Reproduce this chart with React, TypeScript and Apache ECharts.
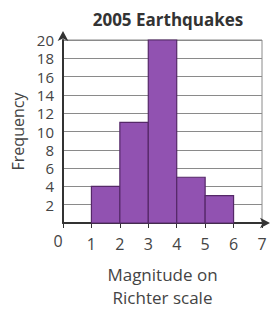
import React, { useEffect, useRef } from "react";
import * as echarts from "echarts";

const binStarts = [1, 2, 3, 4, 5];
const binEnds = [2, 3, 4, 5, 6];
const frequencies = [4, 11, 20, 5, 3];
const xTicks = [0, 1, 2, 3, 4, 5, 6, 7];
const yTicks = [0, 2, 4, 6, 8, 10, 12, 14, 16, 18, 20];

const FONT = "'Open Sans', 'Noto Sans', sans-serif";

export default function App() {
  const ref = useRef<HTMLDivElement>(null);
  useEffect(() => {
    if (!ref.current) return;
    const chart = echarts.init(ref.current, null, { renderer: "svg" });
    const data = binStarts.map((s, i) => [s, binEnds[i], frequencies[i]]);
    chart.setOption({
      animation: false,
      title: {
        text: "2005 Earthquakes",
        left: 163,
        textAlign: "center",
        top: 6,
        textStyle: { fontFamily: FONT, fontSize: 17, fontWeight: "bold", color: "#333" },
      },
      grid: {
        left: 63,
        top: 40,
        right: 14,
        bottom: 84,
        show: true,
        borderColor: "#8a8a8a",
        borderWidth: 1,
        containLabel: false,
      },
      xAxis: {
        type: "value",
        min: xTicks[0],
        max: xTicks[xTicks.length - 1],
        interval: 1,
        name: "Magnitude on\nRichter scale",
        nameLocation: "middle",
        nameGap: 40,
        nameTextStyle: { fontFamily: FONT, fontSize: 17, color: "#444", lineHeight: 23 },
        axisLine: {
          show: true,
          lineStyle: { color: "#333", width: 2 },
          symbol: ["none", "arrow"],
          symbolSize: [8, 10],
          symbolOffset: [0, 8],
        },
        axisTick: { show: true, length: 5, lineStyle: { color: "#333", width: 1 } },
        axisLabel: {
          fontFamily: FONT,
          fontSize: 16,
          color: "#444",
          margin: 13,
          formatter: (v: number) => (v === 0 ? "" : String(v)),
        },
        splitLine: { show: false },
      },
      yAxis: {
        type: "value",
        min: yTicks[0],
        max: yTicks[yTicks.length - 1],
        interval: 2,
        name: "Frequency",
        nameLocation: "middle",
        nameGap: 35,
        nameTextStyle: { fontFamily: FONT, fontSize: 16, color: "#444" },
        axisLine: {
          show: true,
          lineStyle: { color: "#333", width: 2 },
          symbol: ["none", "arrow"],
          symbolSize: [8, 10],
          symbolOffset: [0, 9],
        },
        axisTick: { show: false },
        axisLabel: {
          fontFamily: FONT,
          fontSize: 15,
          lineHeight: 17,
          color: "#444",
          margin: 9,
          formatter: (v: number) => (v === 0 ? "" : String(v)),
        },
        splitLine: { show: true, lineStyle: { color: "#8a8a8a", width: 1 } },
      },
      graphic: [
        {
          type: "text",
          x: 58,
          y: 241,
          style: {
            text: "0",
            fontFamily: FONT,
            fontSize: 16,
            fill: "#444",
            align: "center",
            verticalAlign: "middle",
          },
        },
      ],
      series: [
        {
          type: "custom",
          data,
          encode: { x: [0, 1], y: 2 },
          renderItem: (params: any, api: any) => {
            const x0 = api.value(0);
            const x1 = api.value(1);
            const y = api.value(2);
            const p0 = api.coord([x0, y]);
            const p1 = api.coord([x1, 0]);
            return {
              type: "rect",
              shape: { x: p0[0], y: p0[1], width: p1[0] - p0[0], height: p1[1] - p0[1] },
              style: { fill: "#9152b1", stroke: "#552868", lineWidth: 1.2 },
            };
          },
          z: 3,
        },
      ],
    });
    return () => chart.dispose();
  }, []);
  return <div ref={ref} style={{ width: 276, height: 314, position: "absolute", left: 0, top: 0 }} />;
}
